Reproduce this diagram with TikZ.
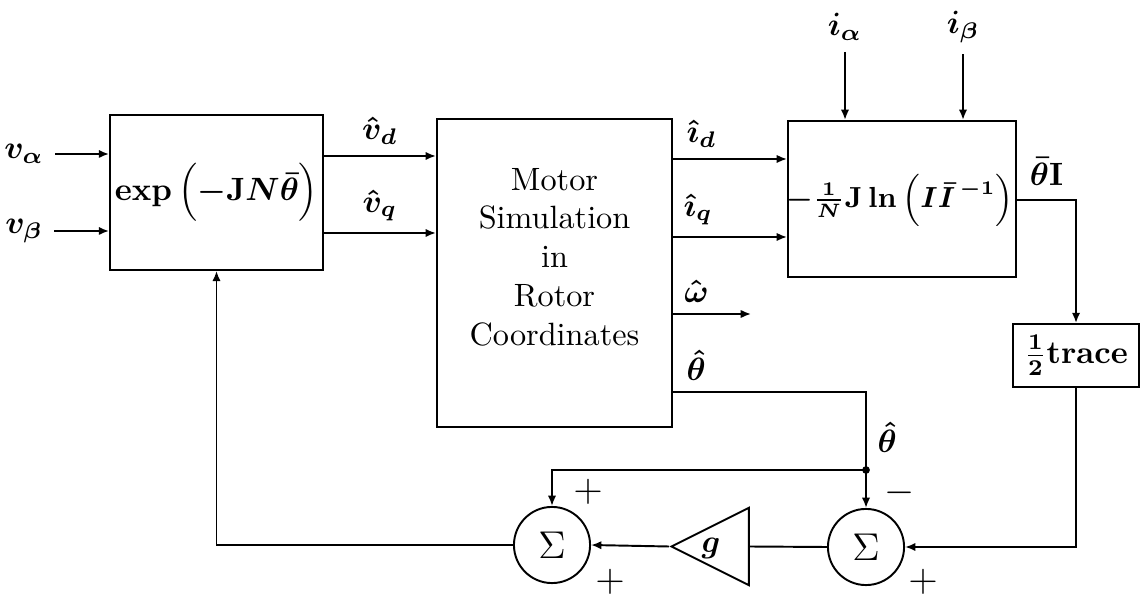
\documentclass[tikz,border=0pt]{standalone}
\usepackage{amsmath}
\usepackage{tikz}
\usetikzlibrary{arrows.meta, shapes.geometric, positioning, calc}

\begin{document}
\begin{tikzpicture}[x=0.31pt, y=-0.31pt,
    every node/.append style={font=\boldmath},
    blk/.style={draw, semithick, inner sep=0pt},
    sumnode/.style={draw, semithick, circle, minimum size=23.6pt, inner sep=0pt, font=\large},
    sig/.style={semithick, -{Latex[length=3.2pt, width=2.6pt]}},
    wire/.style={semithick},
    sgn/.style={font=\large}]
  \useasboundingbox (0,0) rectangle (1142,600);

  % Blocks
  \node[blk, minimum width=66pt, minimum height=48pt] (expbox) at (216.5,192.5) {$\exp\,\Bigl(-\mathbf{J}N\bar{\theta}\Bigr)$};
  \node[blk, minimum width=72.9pt, minimum height=95.5pt] (motor) at (554.5,273) {};
  \node[align=center, font=\normalsize] (motortxt) at (554.5,257) {Motor\\Simulation\\in\\Rotor\\Coordinates};
  \node[blk, minimum width=70.7pt, minimum height=48.4pt] (lnbox) at (902,199) {};
  \node[font=\small\boldmath] (lntxt) at (900,200) {$-\frac{1}{N}\mathbf{J}\ln\,\Bigl(I\bar{I}^{\,-1}\Bigr)$};
  \node[blk, minimum width=39.1pt, minimum height=19.5pt] (trace) at (1076,355.5) {$\frac{1}{2}$\textbf{trace}};

  % Summing junctions and gain
  \node[sumnode] (sum1) at (552,545) {$\Sigma$};
  \node[sumnode] (sum2) at (866,547) {$\Sigma$};
  \node[isosceles triangle, shape border rotate=180, isosceles triangle stretches,
        draw, semithick, minimum width=24pt, minimum height=24pt, inner sep=0pt] (gain) at (725,546.5) {};
  \node (glab) at (711,548) {$g$};

  % Signal rows
  \coordinate (rvd) at (0,156);
  \coordinate (rvq) at (0,233);
  \coordinate (rid) at (0,159);
  \coordinate (riq) at (0,237);
  \coordinate (rw) at (0,314);
  \coordinate (rth) at (0,392);
  \coordinate (rbar) at (0,200);
  \coordinate (jn) at (866,470);

  % Inputs
  \node (va) at (24,154) {$v_\alpha$};
  \node (vb) at (24,231) {$v_\beta$};
  \node (ia) at (845,27) {$i_\alpha$};
  \node (ib) at (963,27) {$i_\beta$};
  \draw[sig] (va) -- (va -| expbox.west);
  \draw[sig] (vb) -- (vb -| expbox.west);
  \draw[sig] (ia) -- (ia |- lnbox.north);
  \draw[sig] (ib) -- (ib |- lnbox.north);

  % Forward path
  \draw[sig] (expbox.east |- rvd) -- (motor.west |- rvd) node[midway, above] {$\hat{v}_d$};
  \draw[sig] (expbox.east |- rvq) -- (motor.west |- rvq) node[midway, above] {$\hat{v}_q$};
  \draw[sig] (motor.east |- rid) -- (lnbox.west |- rid) node[pos=0.25, above] {$\hat{\imath}_d$};
  \draw[sig] (motor.east |- riq) -- (lnbox.west |- riq) node[pos=0.22, above] {$\hat{\imath}_q$};
  \draw[sig] (motor.east |- rw) -- ++(78,0) node[pos=0.3, above] {$\hat{\omega}$};
  \draw[sig] (lnbox.east |- rbar) -| (trace.north) node[pos=0.25, above=1pt] {$\bar{\theta}\mathbf{I}$};

  % Feedback
  \draw[wire] (motor.east |- rth) -| (jn) node[pos=0.06, above] {$\hat{\theta}$} node[pos=0.79, right] {$\hat{\theta}$};
  \fill (jn) circle (1.2pt);
  \draw[sig] (jn) -- (sum2.north);
  \draw[sig] (jn) -| (sum1.north);
  \draw[sig] (trace.south) |- (sum2.east);
  \draw[wire] (sum2.west) -- (gain.east);
  \draw[sig] (gain.west) -- (sum1.east);
  \draw[sig] (sum1.west) -| (expbox.south);

  % Signs
  \node[sgn] (s1a) at (588,492) {$+$};
  \node[sgn] (s1b) at (610,582) {$+$};
  \node[sgn] (s2a) at (900,493) {$-$};
  \node[sgn] (s2b) at (923,582) {$+$};
\end{tikzpicture}
\end{document}
